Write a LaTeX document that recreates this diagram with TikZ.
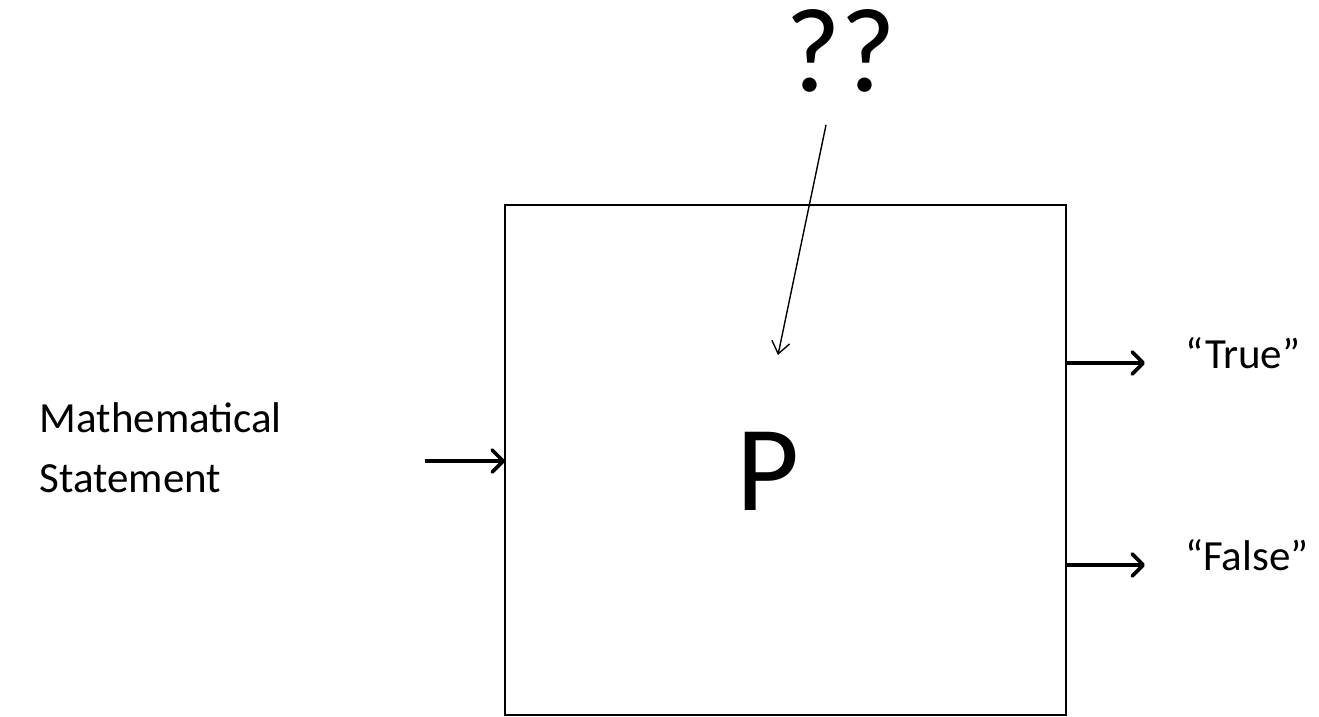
\documentclass[tikz,border=0pt]{standalone}
\usepackage{fontspec}
\setmainfont{Carlito}
\usetikzlibrary{arrows.meta}
\begin{document}
\begin{tikzpicture}[x=1pt,y=-1pt,
  boxline/.style={line width=2.3pt},
  thickarrow/.style={line width=3.6pt,-{Straight Barb[length=11pt,width=22pt,line cap=round,line join=round]}},
  thinarrow/.style={line width=1.4pt,-{Straight Barb[length=12pt,width=18pt]}},
  sidetext/.style={inner sep=0pt,font=\fontsize{43}{52}\selectfont},
  bigtext/.style={inner sep=0pt,font=\fontsize{122}{140}\selectfont}]
\useasboundingbox (0,0) rectangle (1319,717);
\draw[boxline] (505,205) rectangle (1066,715);
\coordinate (boxW) at (505,461);
\coordinate (inL) at (425,461);
\coordinate (outT) at (1066,363);
\coordinate (outF) at (1066,565);
\coordinate (tipT) at (1145,363);
\coordinate (tipF) at (1145,565);
\node[bigtext,anchor=base] (P) at (768,510) {P};
\node[bigtext,anchor=base,font=\fontsize{120}{140}\selectfont] (qq) at (841,92) {??};
\coordinate (qs) at (826,125);
\coordinate (qe) at (778,355);
\node[sidetext,anchor=base east] (math) at (282,432) {Mathematical};
\node[sidetext,anchor=base west] (stmt) at (math.base west |- 0,492) {Statement};
\node[sidetext,anchor=base west] (true) at (1185,368) {“True”};
\node[sidetext,anchor=base west] (false) at (1185,570) {“False”};
\draw[thickarrow] (inL) -- (boxW);
\draw[thickarrow] (outT) -- (tipT);
\draw[thickarrow] (outF) -- (tipF);
\draw[thinarrow] (qs) -- (qe);
\end{tikzpicture}
\end{document}
